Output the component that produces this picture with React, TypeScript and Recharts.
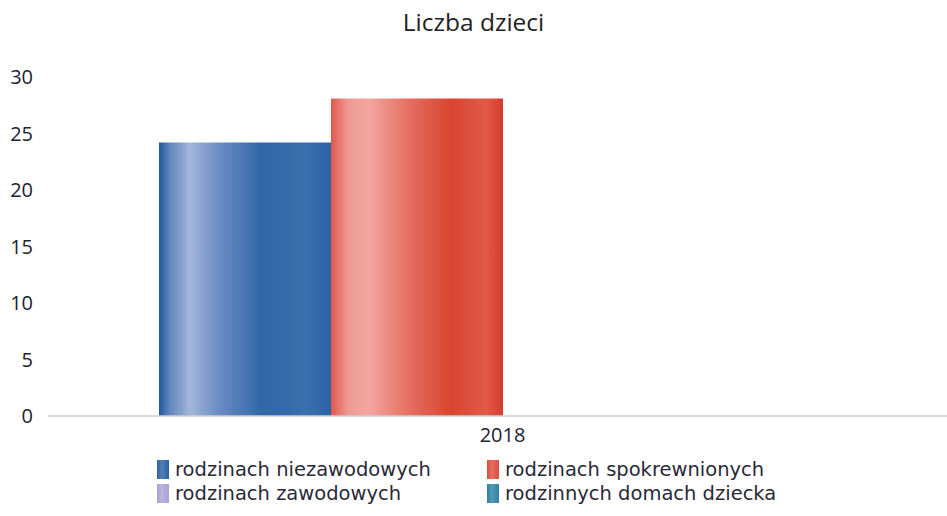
import React from "react";
import { BarChart, Bar, XAxis, YAxis, Legend } from "recharts";

const categories = ["2018"];
const niezawodowych = [24.2];
const spokrewnionych = [28.1];
const zawodowych = [0];
const domachDziecka = [0];
const yTicks = [0, 5, 10, 15, 20, 25, 30];

const seriesNames = [
  "rodzinach niezawodowych",
  "rodzinach spokrewnionych",
  "rodzinach zawodowych",
  "rodzinnych domach dziecka",
];
const seriesKeys = ["niez", "spok", "zaw", "rdd"];
const seriesColors = ["#2a62a2", "#e04a3c", "#a9a2d2", "#2b82a2"];

const data = categories.map((c, i) => ({
  year: c,
  niez: niezawodowych[i],
  spok: spokrewnionych[i],
  zaw: zawodowych[i],
  rdd: domachDziecka[i],
}));

const FONT = "'Open Sans', 'DejaVu Sans', sans-serif";
const LEGEND_FONT = "'DejaVu Sans', sans-serif";

const legendOrder = [0, 1, 2, 3];

const LegendContent = () => (
  <div style={{ position: "relative", width: 947, height: 60, fontFamily: LEGEND_FONT, fontSize: 19.5, color: "#2a2a38" }}>
    {legendOrder.map((idx) => {
      const col = idx % 2;
      const row = Math.floor(idx / 2);
      const left = col === 0 ? 157 : 487;
      const top = row * 24;
      return (
        <div key={idx} style={{ position: "absolute", left, top, height: 23, display: "flex", alignItems: "center", whiteSpace: "nowrap", lineHeight: "23px" }}>
          <span
            style={{
              display: "inline-block",
              width: 12,
              height: 19,
              marginRight: 6,
              background: `linear-gradient(to right, ${seriesColors[idx]} 0%, ${seriesColors[idx]}cc 40%, ${seriesColors[idx]} 100%)`,
            }}
          />
          <span>{seriesNames[idx]}</span>
        </div>
      );
    })}
  </div>
);

export default function App() {
  return (
    <div style={{ position: "absolute", left: 0, top: 0, width: 947, height: 516, background: "#fff" }}>
      <div
        style={{
          position: "absolute",
          left: 0,
          top: 5,
          width: 947,
          textAlign: "center",
          fontFamily: FONT,
          fontSize: 24.5,
          color: "#222",
        }}
      >
        Liczba dzieci
      </div>
      <BarChart
        width={947}
        height={516}
        data={data}
        margin={{ top: 77, right: -10, left: 0, bottom: 10 }}
        barGap={0}
        barSize={172}
      >
        <defs>
          <linearGradient id="gBlue" x1="0" y1="0" x2="1" y2="0">
            <stop offset="0%" stopColor="#1f5a9c" />
            <stop offset="6%" stopColor="#5f84bc" />
            <stop offset="18%" stopColor="#a2b6da" />
            <stop offset="35%" stopColor="#6a8cc2" />
            <stop offset="60%" stopColor="#2f66a6" />
            <stop offset="85%" stopColor="#3a70ae" />
            <stop offset="100%" stopColor="#2a62a4" />
          </linearGradient>
          <linearGradient id="gRed" x1="0" y1="0" x2="1" y2="0">
            <stop offset="0%" stopColor="#e0574c" />
            <stop offset="10%" stopColor="#f09a94" />
            <stop offset="22%" stopColor="#f2a6a0" />
            <stop offset="45%" stopColor="#e66f62" />
            <stop offset="70%" stopColor="#d9442f" />
            <stop offset="90%" stopColor="#e25a4a" />
            <stop offset="100%" stopColor="#d63c2c" />
          </linearGradient>
          <linearGradient id="gLav" x1="0" y1="0" x2="1" y2="0">
            <stop offset="0%" stopColor="#a9a2d2" />
            <stop offset="100%" stopColor="#c8c2e6" />
          </linearGradient>
          <linearGradient id="gTeal" x1="0" y1="0" x2="1" y2="0">
            <stop offset="0%" stopColor="#2b82a2" />
            <stop offset="100%" stopColor="#4a9ab8" />
          </linearGradient>
        </defs>
        <XAxis
          dataKey="year"
          axisLine={{ stroke: "#cfcfd8", strokeWidth: 1.5 }}
          tickLine={false}
          tick={{ fontFamily: FONT, fontSize: 20, fill: "#222230" }}
          tickMargin={6}
          height={30}
        />
        <YAxis
          domain={[0, 30]}
          ticks={yTicks}
          axisLine={false}
          tickLine={false}
          tickSize={0}
          tickMargin={15}
          width={48}
          tick={{ fontFamily: FONT, fontSize: 20, fill: "#222230" }}
        />
        <Legend
          verticalAlign="bottom"
          content={<LegendContent />}
          wrapperStyle={{ left: 0, top: 458, width: 947, height: 60 }}
        />
        <Bar dataKey={seriesKeys[0]} name={seriesNames[0]} fill="url(#gBlue)" isAnimationActive={false} />
        <Bar dataKey={seriesKeys[1]} name={seriesNames[1]} fill="url(#gRed)" isAnimationActive={false} />
        <Bar dataKey={seriesKeys[2]} name={seriesNames[2]} fill="url(#gLav)" isAnimationActive={false} />
        <Bar dataKey={seriesKeys[3]} name={seriesNames[3]} fill="url(#gTeal)" isAnimationActive={false} />
      </BarChart>
    </div>
  );
}
